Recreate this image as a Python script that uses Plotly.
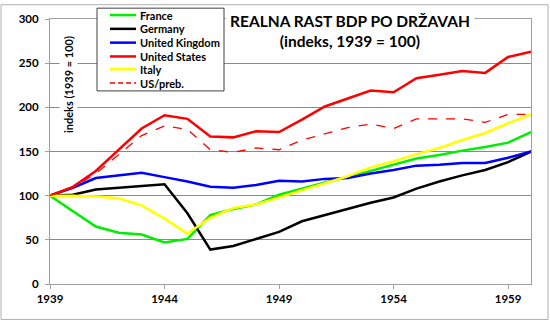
import plotly.graph_objects as go

years = list(range(1939, 1961))

france = [100, 82, 65, 58, 56, 47, 51, 78, 85, 90, 101, 108, 115, 121, 128, 135, 142, 146, 151, 155, 160, 172]
germany = [100, 101, 107, 109, 111, 113, 80, 39, 43, 51, 59, 71, 78, 85, 92, 98, 108, 116, 123, 129, 138, 150]
uk = [100, 109, 120, 123, 126, 121, 116, 110, 109, 112, 117, 116, 119, 120, 125, 129, 134, 135, 137, 137, 143, 150]
us = [100, 110, 128, 152, 176, 191, 187, 167, 166, 173, 172, 186, 201, 210, 219, 217, 233, 237, 241, 239, 257, 263]
italy = [100, 100, 99, 97, 89, 74, 57, 75, 86, 90, 98, 106, 114, 122, 132, 139, 147, 154, 163, 171, 182, 192]
us_preb = [100, 109, 125, 147, 168, 179, 175, 152, 149, 154, 152, 163, 170, 177, 181, 176, 187, 187, 187, 183, 192, 192]

names = ["France", "Germany", "United Kingdom", "United States", "Italy", "US/preb."]
series = [france, germany, uk, us, italy, us_preb]
colors = ["#00ee00", "#000000", "#0000ff", "#ff0000", "#ffff00", "#ff0000"]
widths = [2.5, 2.5, 2.5, 2.5, 2.5, 1.3]
dashes = ["solid", "solid", "solid", "solid", "solid", "dash"]

y_ticks = [0, 50, 100, 150, 200, 250, 300]
x_ticks = [1939, 1944, 1949, 1954, 1959]

title_text = "<b>REALNA RAST BDP PO DRŽAVAH<br>(indeks, 1939 = 100)</b>"
y_title = "<b>indeks (1939 = 100)</b>"

W, H = 550, 323
L, R, T, B = 50, 19, 15, 39
PW, PH = W - L - R, H - T - B


def px(x):
    return (x - L) / PW


def py(y):
    return (H - B - y) / PH


FONT = "Lato"

fig = go.Figure()
for name, vals, c, w, d in zip(names, series, colors, widths, dashes):
    fig.add_trace(go.Scatter(x=years, y=vals, mode="lines", name=name,
                             line=dict(color=c, width=w, dash=d),
                             showlegend=False))

shapes = []
annotations = []

# outer chart border
shapes.append(dict(type="rect", xref="paper", yref="paper",
                   x0=px(1), x1=px(548), y0=py(320), y1=py(0.5),
                   line=dict(color="#b0b0b0", width=1), fillcolor="rgba(0,0,0,0)",
                   layer="below"))

# legend box
shapes.append(dict(type="rect", xref="paper", yref="paper",
                   x0=px(97), x1=px(224), y0=py(88), y1=py(4),
                   line=dict(color="#404040", width=1), fillcolor="white",
                   layer="above"))
row_y = [11, 25, 39, 53, 66, 80]
for name, c, w, d, ry in zip(names, colors, widths, dashes, row_y):
    shapes.append(dict(type="line", xref="paper", yref="paper",
                       x0=px(110), x1=px(136), y0=py(ry), y1=py(ry),
                       line=dict(color=c, width=2.5 if d == "solid" else 1.5,
                                 dash="solid" if d == "solid" else "5px,3px"),
                       layer="above"))
    annotations.append(dict(xref="paper", yref="paper", x=px(138), y=py(ry),
                            xanchor="left", yanchor="middle", showarrow=False,
                            text="<b>" + name + "</b>",
                            font=dict(family=FONT, size=11, color="black")))

# title
annotations.append(dict(xref="paper", yref="paper", x=px(350), y=py(3),
                        xanchor="center", yanchor="top", showarrow=False,
                        text=title_text, align="center", bgcolor="white",
                        borderpad=4,
                        font=dict(family=FONT, size=15.5, color="black")))

# y axis title
annotations.append(dict(xref="paper", yref="paper", x=px(68), y=py(82),
                        xanchor="center", yanchor="middle", showarrow=False,
                        text=y_title, textangle=-90, bgcolor="white",
                        borderpad=2,
                        font=dict(family=FONT, size=11, color="black")))

fig.update_layout(
    width=W, height=H, autosize=False,
    margin=dict(l=L, r=R, t=T, b=B),
    paper_bgcolor="white", plot_bgcolor="white",
    shapes=shapes, annotations=annotations,
    xaxis=dict(range=[1939, 1960], tickvals=x_ticks,
               ticktext=[str(v) for v in x_ticks],
               showgrid=False, zeroline=False,
               showline=True, linecolor="#a0a0a0", linewidth=1, mirror=True,
               ticks="outside", ticklen=4, tickcolor="#a0a0a0",
               tickfont=dict(family=FONT, size=11.5, color="black", weight="bold")),
    yaxis=dict(range=[0, 300], tickvals=y_ticks,
               showgrid=True, gridcolor="#8a8a8a", gridwidth=1,
               zeroline=False,
               showline=True, linecolor="#a0a0a0", linewidth=1, mirror=True,
               ticks="outside", ticklen=4, tickcolor="#a0a0a0",
               ticklabelstandoff=4,
               tickfont=dict(family=FONT, size=11.5, color="black", weight="bold")),
)

fig.write_html("out.html")
